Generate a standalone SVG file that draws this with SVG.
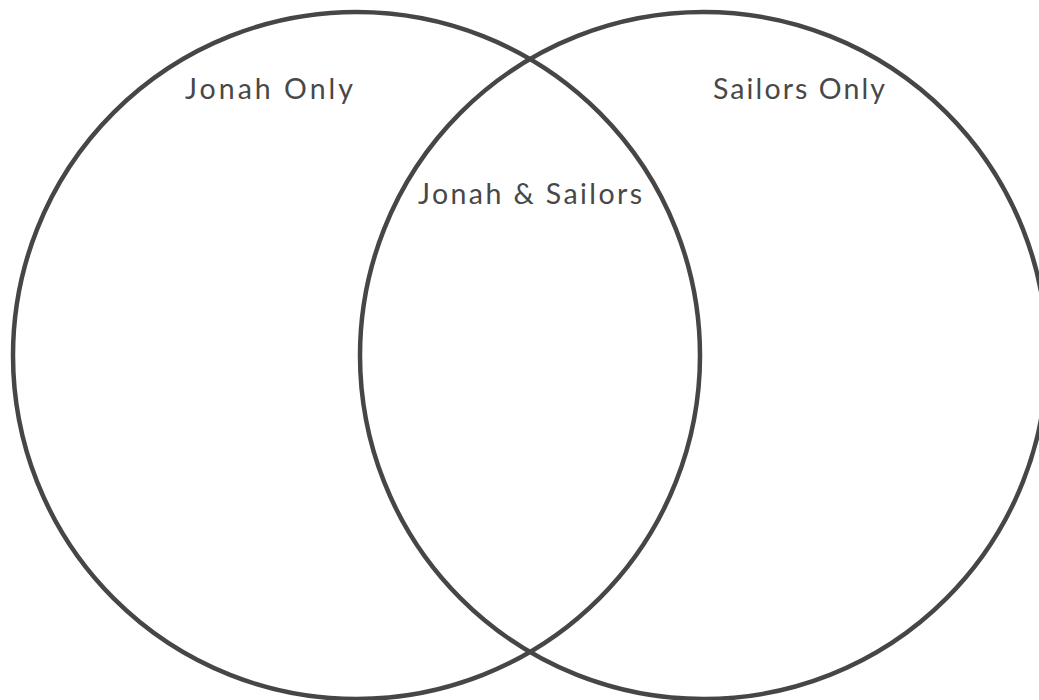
<svg xmlns="http://www.w3.org/2000/svg" width="1039" height="700" viewBox="0 0 1039 700">
<style>
.set{fill:none;stroke:#464646;stroke-width:4.5}
.lbl{font-family:Lato,"Open Sans","Liberation Sans",sans-serif;font-size:28.5px;fill:#484848}
</style>
<rect width="1039" height="700" fill="#ffffff"/>
<g id="jonah">
<circle class="set" cx="356.5" cy="355.5" r="343.5"/>
<text class="lbl" x="185" y="99" textLength="168">Jonah Only</text>
</g>
<g id="sailors">
<circle class="set" cx="703.5" cy="355.5" r="343.5"/>
<text class="lbl" x="713" y="99" textLength="172">Sailors Only</text>
</g>
<g id="both">
<text class="lbl" x="418" y="204" textLength="224">Jonah &amp; Sailors</text>
</g>
<g id="connectors"/>
</svg>
